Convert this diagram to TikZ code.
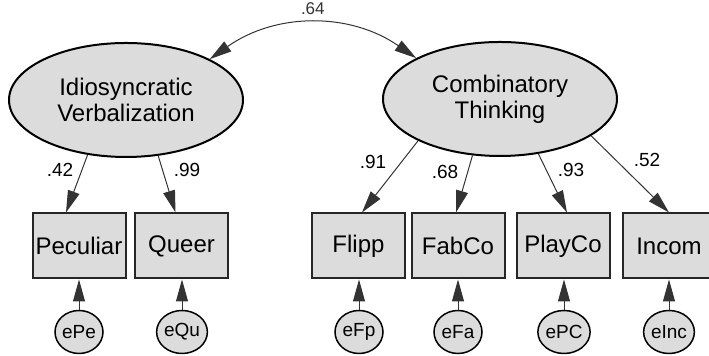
\documentclass[tikz,border=0pt]{standalone}
\usepackage{fontspec}
\setmainfont{Liberation Sans}
\usetikzlibrary{arrows.meta}
\usetikzlibrary{shapes.geometric}
\usetikzlibrary{calc}

\definecolor{nodegray}{HTML}{DCDCDC}

\tikzset{
  >={Triangle[length=11pt,width=6pt]},
  latent/.style={ellipse,draw,line width=1pt,fill=nodegray,minimum width=117pt,
    minimum height=57pt,inner sep=0pt,align=center,font=\fontsize{12}{13}\selectfont},
  observed/.style={rectangle,draw=black!85,line width=1pt,fill=nodegray,minimum width=46.5pt,
    minimum height=32.5pt,inner sep=0pt,font=\fontsize{12}{13}\selectfont},
  error/.style={ellipse,draw,line width=0.75pt,fill=nodegray,minimum width=24pt,
    minimum height=21.5pt,inner sep=0pt,font=\fontsize{9.5}{11}\selectfont},
  loading/.style={->,line width=0.5pt,black!80},
  coef/.style={font=\fontsize{9.5}{11}\selectfont}
}

\begin{document}
\begin{tikzpicture}[x=0.5pt,y=-0.5pt]

    \useasboundingbox (0,0) rectangle (709,356);

    % latent factors
    \node[latent] (IV) at (126,100) {Idiosyncratic\\Verbalization};
    \node[latent] (CT) at (500,99) {Combinatory\\Thinking};

    % correlation between factors
    \draw[<->,line width=0.5pt,black!80] (IV.26) to[bend left=35]
        node[coef,above=1pt,font=\fontsize{8.5}{10}\selectfont] {.64} (CT.154);

    % indicators and their errors
    \foreach \obs/\x/\err/\ex in {Peculiar/79/ePe/79, Queer/181.5/eQu/182, Flipp/358.5/eFp/359,
        FabCo/458/eFa/458, PlayCo/563/ePC/564, Incom/669/eInc/669} {
        \node[observed] (\obs) at (\x,246) {\obs};
        \node[error] (\err) at (\ex,332) {\err};
        \draw[loading] (\err.north) -- (\err.north |- \obs.south);
    }

    % loadings
    \draw[loading] (IV.235) -- ($(Peculiar.north)+(-13,0)$);
    \draw[loading] (IV.300) -- ($(Queer.north)+(-6,0)$);
    \draw[loading] (CT.207) -- ($(Flipp.north)+(3.5,0)$);
    \draw[loading] (CT.244) -- ($(FabCo.north)+(-2,0)$);
    \draw[loading] (CT.305) -- ($(PlayCo.north)+(4,0)$);
    \draw[loading] (CT.338) -- (Incom.north);

    % loading values
    \node[coef] (l1) at (60,170) {.42};
    \node[coef] (l2) at (187,170) {.99};
    \node[coef] (l3) at (373,162) {.91};
    \node[coef] (l4) at (445,172) {.68};
    \node[coef] (l5) at (571,170) {.93};
    \node[coef] (l6) at (647,160) {.52};

\end{tikzpicture}
\end{document}
